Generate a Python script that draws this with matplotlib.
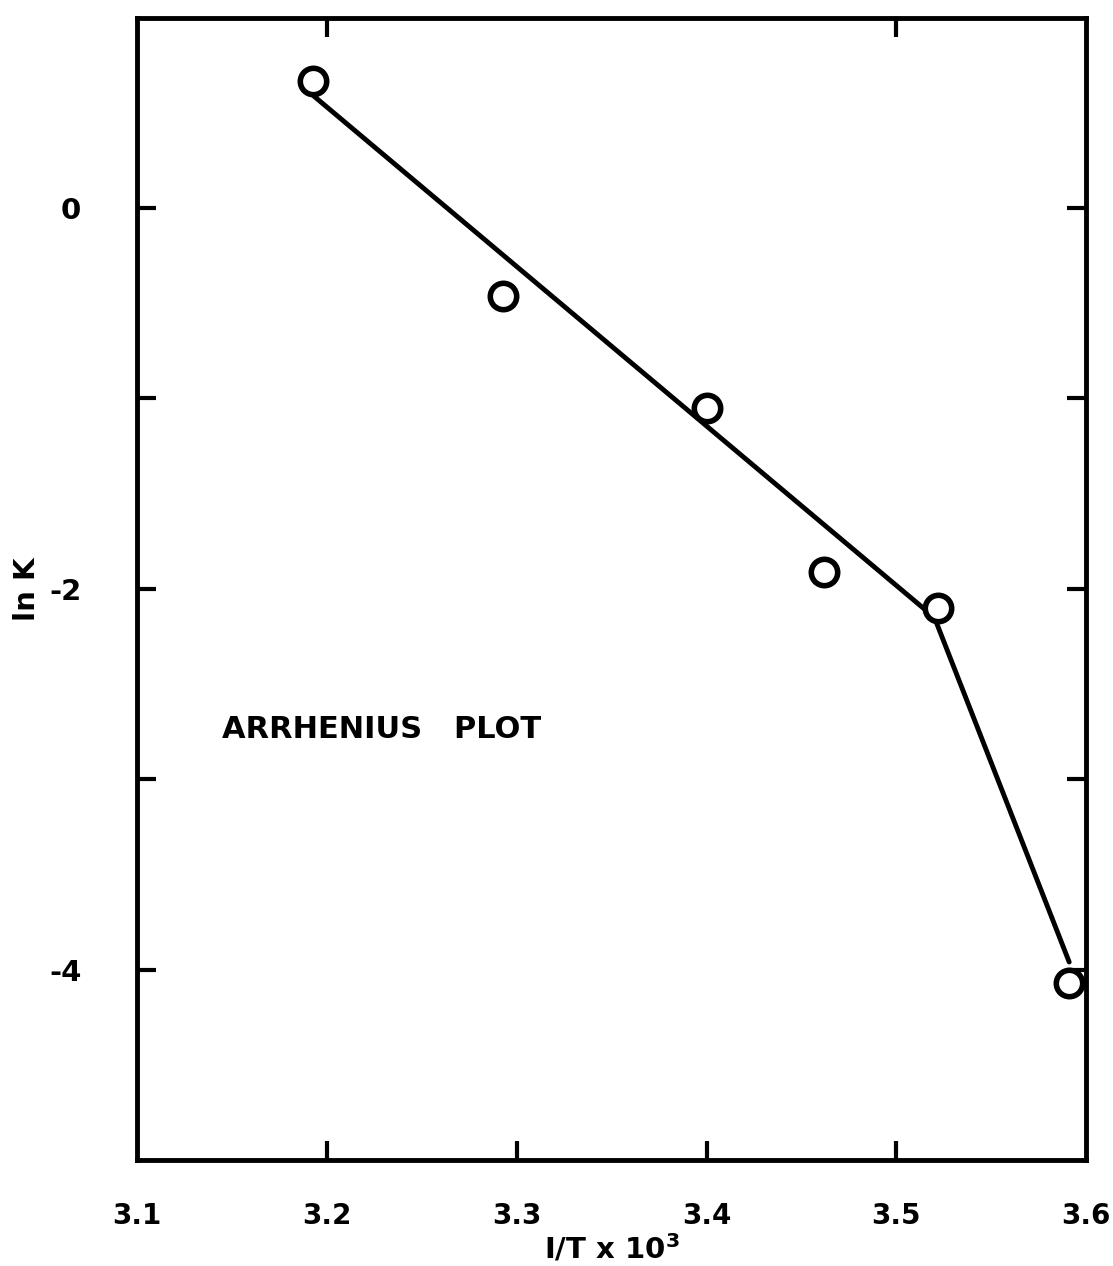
import numpy as np
import matplotlib.pyplot as plt

# measured points (open circles)
inv_T = [3.193, 3.293, 3.400, 3.462, 3.522, 3.591]
ln_k = [0.67, -0.46, -1.05, -1.91, -2.10, -4.07]

# hand-drawn fit line (two segments)
fit_x = [3.193, 3.520, 3.591]
fit_y = [0.59, -2.15, -3.96]

xticks = [3.1, 3.2, 3.3, 3.4, 3.5, 3.6]
xlabels = ['3.1', '3.2', '3.3', '3.4', '3.5', '3.6']
yticks = [0, -1, -2, -3, -4]
ylabels = ['0', '', '-2', '', '-4']

plt.rcParams['font.family'] = 'DejaVu Sans'
plt.rcParams['font.weight'] = 'bold'

fig = plt.figure(figsize=(11.13, 12.66), dpi=100)
ax = fig.add_axes([0.123, 0.0837, 0.853, 0.9023])

ax.plot(fit_x, fit_y, color='black', linewidth=3.5, solid_capstyle='round', zorder=2)
ax.plot(inv_T, ln_k, linestyle='none', marker='o', markersize=19,
        markerfacecolor='white', markeredgecolor='black', markeredgewidth=4, zorder=3)

ax.set_xlim(3.1, 3.6)
ax.set_ylim(-5, 1)

for s in ax.spines.values():
    s.set_linewidth(3.5)

ax.set_xticks(xticks)
ax.set_xticklabels(xlabels, fontsize=20, fontweight='bold')
ax.set_yticks(yticks)
ax.set_yticklabels(ylabels, fontsize=21, fontweight='bold')
ax.tick_params(axis='both', direction='in', length=14, width=3,
               top=True, right=True)
ax.tick_params(axis='x', pad=30)
ax.tick_params(axis='y', pad=40)

# bottom ticks only between the ends, top ticks only at 3.2 and 3.5
for val, t in zip(xticks, ax.xaxis.get_major_ticks()):
    if val in (3.1, 3.6):
        t.tick1line.set_visible(False)
    if val not in (3.2, 3.5):
        t.tick2line.set_visible(False)

ax.set_xlabel('I/T x 10$^{\\mathbf{3}}$', fontsize=21, fontweight='bold', labelpad=2)
ax.set_ylabel('ln K', fontsize=21, fontweight='bold', labelpad=6)

ax.text(3.145, -2.74, 'ARRHENIUS   PLOT', fontsize=22, fontweight='bold',
        va='center', ha='left')

fig.savefig('out.png', dpi=100)
